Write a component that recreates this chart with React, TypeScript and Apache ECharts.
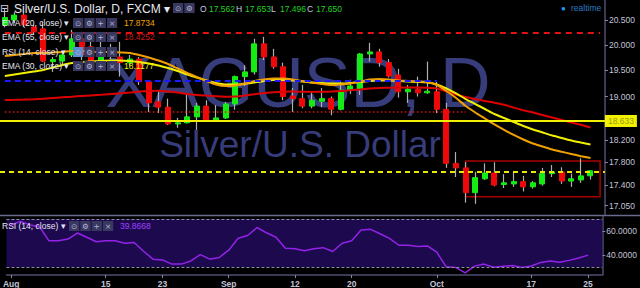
import React, { useEffect, useRef } from 'react';
import * as echarts from 'echarts';

const FONT = '"Liberation Sans", Arial, sans-serif';

// ---- categories: FXCM daily bars (weekdays) from 1 Aug 2016 to 25 Oct 2016
function tradingDays(start: string, end: string): string[] {
  const out: string[] = [];
  const d = new Date(start + 'T00:00:00Z');
  const e = new Date(end + 'T00:00:00Z');
  while (d <= e) {
    const wd = d.getUTCDay();
    if (wd !== 0 && wd !== 6) out.push(d.toISOString().slice(0, 10));
    d.setUTCDate(d.getUTCDate() + 1);
  }
  return out;
}
const dates = tradingDays('2016-08-01', '2016-10-25');

// ---- x tick labels
const tickDates = ['2016-08-01', '2016-08-15', '2016-08-23', '2016-09-01', '2016-09-12', '2016-09-20', '2016-10-03', '2016-10-17', '2016-10-25'];
const tickLabels = ['Aug', '15', '23', 'Sep', '12', '20', 'Oct', '17', '25'];

// ---- OHLC
const open = [20.40, 20.50, 20.60, 20.36, 20.32, 19.67, 19.68, 19.80, 20.12, 19.96, 19.68, 19.78, 19.76, 19.65, 19.72, 19.28, 18.90, 18.80, 18.49, 18.51, 18.62, 18.82, 18.56, 18.60, 18.86, 19.38, 19.47, 20.02, 19.76, 19.57, 19.01, 18.96, 18.82, 18.91, 18.96, 18.76, 19.12, 19.14, 19.82, 19.86, 19.65, 19.41, 19.09, 19.14, 19.07, 19.09, 18.76, 17.78, 17.70, 17.27, 17.51, 17.61, 17.41, 17.42, 17.46, 17.37, 17.42, 17.60, 17.63, 17.47, 17.49, 17.562];
const high = [20.72, 20.66, 20.64, 20.40, 20.46, 19.76, 19.85, 20.30, 20.26, 20.06, 20.06, 20.02, 20.06, 19.80, 19.76, 19.30, 19.09, 18.96, 18.60, 19.05, 18.88, 18.93, 18.84, 18.90, 19.40, 19.60, 20.12, 20.16, 19.92, 19.65, 19.16, 19.22, 19.09, 19.16, 19.00, 19.28, 19.32, 19.84, 20.04, 19.92, 19.72, 19.53, 19.22, 19.38, 19.67, 19.28, 18.88, 17.98, 17.80, 17.63, 17.78, 17.80, 17.59, 17.63, 17.56, 17.47, 17.70, 17.75, 17.71, 17.60, 17.87, 17.653];
const low = [20.35, 20.44, 20.36, 20.20, 19.66, 19.47, 19.62, 19.76, 19.70, 19.60, 19.66, 19.72, 19.38, 19.58, 19.22, 18.71, 18.69, 18.47, 18.42, 18.50, 18.38, 18.54, 18.53, 18.58, 18.75, 19.20, 19.42, 19.70, 19.53, 18.93, 18.71, 18.78, 18.78, 18.80, 18.65, 18.74, 19.05, 19.03, 19.67, 19.57, 19.36, 18.98, 18.88, 19.00, 19.05, 18.69, 17.70, 17.54, 17.10, 17.08, 17.49, 17.38, 17.35, 17.37, 17.29, 17.34, 17.39, 17.54, 17.42, 17.37, 17.44, 17.496];
const close = [20.55, 20.60, 20.40, 20.26, 19.68, 19.71, 19.80, 20.12, 19.80, 19.65, 19.76, 19.86, 19.65, 19.72, 19.28, 18.88, 18.80, 18.49, 18.51, 18.62, 18.82, 18.56, 18.60, 18.86, 19.38, 19.47, 20.02, 19.76, 19.57, 19.00, 18.96, 18.82, 18.93, 18.96, 18.76, 19.12, 19.20, 19.82, 19.86, 19.65, 19.39, 19.09, 19.14, 19.07, 19.10, 18.76, 17.78, 17.70, 17.27, 17.53, 17.61, 17.40, 17.44, 17.46, 17.37, 17.44, 17.60, 17.63, 17.47, 17.51, 17.56, 17.650];

// ---- moving averages
const ema20 = [19.780, 19.800, 19.819, 19.839, 19.839, 19.849, 19.859, 19.878, 19.878, 19.869, 19.859, 19.859, 19.849, 19.839, 19.800, 19.751, 19.692, 19.624, 19.536, 19.449, 19.372, 19.295, 19.228, 19.199, 19.209, 19.247, 19.295, 19.324, 19.343, 19.343, 19.324, 19.295, 19.266, 19.238, 19.218, 19.228, 19.247, 19.285, 19.324, 19.333, 19.324, 19.304, 19.295, 19.285, 19.276, 19.218, 19.104, 18.972, 18.822, 18.701, 18.590, 18.480, 18.379, 18.288, 18.206, 18.134, 18.080, 18.026, 17.985, 17.946, 17.907, 17.8734];
const ema30 = [19.391, 19.420, 19.449, 19.478, 19.507, 19.556, 19.605, 19.643, 19.663, 19.673, 19.682, 19.692, 19.692, 19.682, 19.663, 19.634, 19.595, 19.546, 19.488, 19.420, 19.362, 19.304, 19.257, 19.228, 19.228, 19.238, 19.266, 19.295, 19.314, 19.314, 19.304, 19.285, 19.266, 19.257, 19.247, 19.247, 19.257, 19.276, 19.295, 19.304, 19.304, 19.295, 19.285, 19.276, 19.266, 19.228, 19.152, 19.057, 18.953, 18.859, 18.766, 18.673, 18.599, 18.525, 18.452, 18.388, 18.334, 18.279, 18.234, 18.188, 18.152, 18.1177];
const ema55 = [18.934, 18.938, 18.943, 18.949, 18.957, 18.972, 18.985, 18.997, 19.010, 19.021, 19.032, 19.046, 19.061, 19.076, 19.093, 19.104, 19.108, 19.093, 19.074, 19.048, 19.029, 19.017, 19.006, 18.997, 19.000, 19.019, 19.044, 19.066, 19.079, 19.089, 19.093, 19.089, 19.087, 19.089, 19.095, 19.104, 19.119, 19.134, 19.150, 19.161, 19.167, 19.169, 19.169, 19.169, 19.167, 19.152, 19.095, 19.038, 18.991, 18.953, 18.915, 18.884, 18.844, 18.792, 18.741, 18.701, 18.655, 18.608, 18.562, 18.516, 18.474, 18.4252];

// ---- RSI (14)
const rsi = [65, 68, 65, 63.5, 51.8, 51.8, 53.3, 58.3, 54.8, 51.0, 51.8, 51.8, 49.8, 50.4, 43.1, 36.5, 35.9, 32.4, 32.4, 35.0, 40.3, 36.5, 37.9, 44.0, 53.9, 56.2, 62.9, 58.5, 54.8, 45.7, 45.2, 43.5, 45.2, 46.1, 42.9, 49.8, 51.8, 60.9, 61.4, 57.7, 53.9, 48.1, 48.1, 47.0, 47.5, 42.3, 30.1, 29.6, 25.1, 30.7, 32.4, 29.8, 30.5, 31.2, 29.6, 30.8, 33.8, 35.0, 34.0, 35.5, 37.5, 39.8668];

// ---- drawn levels
const redDashLevel = 20.251;
const blueDashLevel = 19.295;
const redDotLevel = 18.715;
const yellowLevel = 18.633;
const yellowDashLevel = 17.672;
const boxTop = 17.821;
const boxBottom = 17.2;
const boxStartDate = '2016-10-06';
const blueEndDate = '2016-10-03';
const dotEndDate = '2016-10-06';

// ---- axis ticks
const priceTicks = [20.5, 20.0, 19.5, 19.0, 18.2, 17.8, 17.4, 17.05];
const priceMin = 16.891;
const priceMax = 20.911;
const rsiTicks = [60, 40];

const L = Math.log;

function buildOption() {
  const axisCats = [...dates, ''];
  const lastIdx = axisCats.length - 1;
  const idx = (d: string) => dates.indexOf(d);
  const labelOf: Record<string, string> = {};
  tickDates.forEach((d, i) => (labelOf[d] = tickLabels[i]));
  const showTick = (_i: number, v: string) => labelOf[v] !== undefined;

  const wickData = dates.map((_, i) => [L(open[i]), L(close[i]), L(low[i]), L(high[i])]);
  const bodyData = dates.map((_, i) => [L(open[i]), L(close[i]), L(Math.min(open[i], close[i])), L(Math.max(open[i], close[i]))]);

  const axisColor = '#4e4e70';
  const labelColor = '#c4c4d8';

  const gfx: any[] = [];
  // watermark
  gfx.push({ type: 'text', z: 0, silent: true, style: { x: 298, y: 83, text: 'XAGUSD, D', fill: '#373c7a', fontSize: 70, fontFamily: FONT, textAlign: 'center', textVerticalAlign: 'middle' } });
  gfx.push({ type: 'text', z: 0, silent: true, style: { x: 300, y: 144, text: 'Silver/U.S. Dollar', fill: '#373c7a', fontSize: 37, fontFamily: FONT, textAlign: 'center', textVerticalAlign: 'middle' } });
  // separator
  gfx.push({ type: 'line', z: 50, silent: true, shape: { x1: 0, y1: 215.5, x2: 640, y2: 215.5 }, style: { stroke: '#6a6a8c', lineWidth: 1.5 } });

  const txt = (x: number, y: number, text: string, fill: string, fontSize = 8.5, extra: any = {}) =>
    gfx.push({ type: 'text', z: 101, silent: true, style: { x, y, text, fill, fontSize, fontFamily: FONT, textVerticalAlign: 'middle', ...extra } });
  const glyphs = ['⊙', '⚙', '+', '×'];
  const icons = (x0: number, yc: number, n: number, hl = false) => {
    for (let k = 0; k < n; k++) {
      const x = x0 + k * 11.3;
      gfx.push({ type: 'rect', z: 100, silent: true, shape: { x, y: yc - 5, width: 10.3, height: 10 }, style: { fill: hl && k === 0 ? '#5a8cd0' : '#393960' } });
      gfx.push({ type: 'text', z: 101, silent: true, style: { x: x + 5.15, y: yc, text: glyphs[k], fill: '#b4b4d6', fontSize: 7.5, fontFamily: '"DejaVu Sans", sans-serif', textAlign: 'center', textVerticalAlign: 'middle' } });
    }
  };

  // header row
  txt(0, 8.5, '⊟', '#d0d0e0', 11, { fontFamily: '"DejaVu Sans", sans-serif' });
  txt(14, 8.5, 'Silver/U.S. Dollar, D, FXCM ▾', '#e8e8f2', 12);
  icons(173, 8, 2);
  const ohlcLabels = ['O', 'H', 'L', 'C'];
  const ohlcValues = [open[61], high[61], low[61], close[61]];
  const ohlcX = [200, 236, 271, 307];
  ohlcLabels.forEach((l, k) => {
    txt(ohlcX[k], 8.5, l, '#c8c8ea');
    txt(ohlcX[k] + 9, 8.5, ohlcValues[k].toFixed(3), '#22d022');
  });
  txt(561, 8, '●', '#2196f3', 8);
  txt(571, 8, 'realtime', '#2f7cc2');

  const rows = [
    { name: 'EMA (20, close) ▾', value: ema20[61].toFixed(4), color: '#f5a000', y: 23, hl: false },
    { name: 'EMA (55, close) ▾', value: ema55[61].toFixed(4), color: '#cc1515', y: 37, hl: false },
    { name: 'RSI (14, close) ▾', value: '', color: '#fff', y: 52, hl: true },
    { name: 'EMA (30, close) ▾', value: ema30[61].toFixed(4), color: '#f0f000', y: 66, hl: false },
  ];
  rows.forEach((r) => {
    txt(2, r.y, r.name, '#e4e4f0');
    icons(73, r.y, 4, r.hl);
    if (r.value) txt(124, r.y, r.value, r.color);
  });
  txt(2, 226, 'RSI (14, close) ▾', '#e4e4f0');
  icons(69, 226, 4);
  txt(120, 226, rsi[61].toFixed(4), '#a040ff');

  const markLbl = (text: string, bg: string, fg: string) => ({
    show: true, position: 'end', distance: 0, formatter: text, color: fg, backgroundColor: bg,
    padding: [2, 3, 1, 3], fontSize: 8.5, fontFamily: FONT,
  });

  return {
    animation: false,
    backgroundColor: '#000000',
    textStyle: { fontFamily: FONT },
    grid: [
      { left: -4.3, top: 0, width: 609.2, height: 215 },
      { left: -4.3, top: 216, width: 609.2, height: 59 },
    ],
    xAxis: [
      { type: 'category', gridIndex: 0, data: axisCats, boundaryGap: true, axisLine: { show: false }, axisTick: { show: false }, axisLabel: { show: false }, splitLine: { show: false } },
      {
        type: 'category', gridIndex: 1, data: axisCats, boundaryGap: true,
        axisLine: { show: true, lineStyle: { color: axisColor, width: 1.5 } },
        axisTick: { show: true, interval: showTick, alignWithLabel: true, length: 3, lineStyle: { color: '#8888a8' } },
        axisLabel: { show: true, interval: showTick, alignMinLabel: 'center', alignMaxLabel: 'center', formatter: (v: string) => labelOf[v] ?? '', color: labelColor, fontSize: 8.5, margin: 4, fontWeight: 'bold' },
        splitLine: { show: false },
      },
    ],
    yAxis: [
      {
        type: 'value', gridIndex: 0, position: 'right', min: L(priceMin), max: L(priceMax), scale: true,
        splitLine: { show: false },
        axisLine: { show: true, lineStyle: { color: axisColor, width: 1.5 } },
        axisTick: { show: true, customValues: priceTicks.map(L), length: 3, lineStyle: { color: '#8888a8' } },
        axisLabel: { show: true, customValues: priceTicks.map(L), formatter: (v: number) => Math.exp(v).toFixed(3), color: labelColor, fontSize: 8.5, margin: 4 },
      },
      {
        type: 'value', gridIndex: 1, position: 'right', min: 23.3, max: 72.5,
        splitLine: { show: false },
        axisLine: { show: true, lineStyle: { color: axisColor, width: 1.5 } },
        axisTick: { show: true, customValues: rsiTicks, length: 3, lineStyle: { color: '#8888a8' } },
        axisLabel: { show: true, customValues: rsiTicks, formatter: (v: number) => v.toFixed(4), color: labelColor, fontSize: 8.5, margin: 4 },
      },
    ],
    series: [
      {
        name: 'wicks', type: 'candlestick', xAxisIndex: 0, yAxisIndex: 0, data: wickData, barWidth: 0.01,
        itemStyle: { color: '#b0b0b0', color0: '#b0b0b0', borderColor: '#b0b0b0', borderColor0: '#b0b0b0', borderWidth: 1.2 },
        silent: true,
      },
      {
        name: 'XAGUSD', type: 'candlestick', xAxisIndex: 0, yAxisIndex: 0, data: bodyData, barWidth: 5.5,
        itemStyle: { color: '#14ec14', color0: '#f00808', borderColor: '#14ec14', borderColor0: '#f00808', borderWidth: 1 },
        silent: true,
        markArea: {
          silent: true,
          data: [[
            { coord: [idx(boxStartDate), L(boxTop)], itemStyle: { color: 'rgba(0,0,0,0)', borderColor: '#a80000', borderWidth: 1.5 } },
            { coord: [lastIdx, L(boxBottom)] },
          ]],
        },
        markLine: {
          silent: true, symbol: ['none', 'none'], animation: false,
          label: { show: false },
          data: [
            [{ coord: [0, L(redDashLevel)], lineStyle: { color: '#e01414', width: 2, type: [6, 5] } }, { coord: [lastIdx, L(redDashLevel)] }],
            [{ coord: [0, L(blueDashLevel)], lineStyle: { color: '#1a1aff', width: 2, type: [6, 4] } }, { coord: [idx(blueEndDate), L(blueDashLevel)] }],
            [{ coord: [0, L(redDotLevel)], lineStyle: { color: '#e01414', width: 1.5, type: [1.5, 2.5] } }, { coord: [idx(dotEndDate), L(redDotLevel)] }],
            { yAxis: L(yellowLevel), lineStyle: { color: '#f0f000', width: 2, type: 'solid' }, label: markLbl(yellowLevel.toFixed(3), '#f2f200', '#9a9a18') },
            { yAxis: L(yellowDashLevel), lineStyle: { color: '#e8e800', width: 2, type: [5, 4] } },
            { yAxis: L(close[61]), lineStyle: { opacity: 0 }, label: markLbl(close[61].toFixed(3), '#00dc00', '#a8eea8') },
          ],
        },
      },
      { name: 'EMA 55', type: 'line', xAxisIndex: 0, yAxisIndex: 0, data: ema55.map(L), showSymbol: false, symbol: 'none', smooth: 0.2, lineStyle: { color: '#dd0000', width: 2 }, silent: true },
      { name: 'EMA 30', type: 'line', xAxisIndex: 0, yAxisIndex: 0, data: ema30.map(L), showSymbol: false, symbol: 'none', smooth: 0.2, lineStyle: { color: '#f0f000', width: 2 }, silent: true },
      { name: 'EMA 20', type: 'line', xAxisIndex: 0, yAxisIndex: 0, data: ema20.map(L), showSymbol: false, symbol: 'none', smooth: 0.2, lineStyle: { color: '#f0a000', width: 2 }, silent: true },
      {
        name: 'RSI', type: 'line', xAxisIndex: 1, yAxisIndex: 1, data: rsi, showSymbol: false, symbol: 'none',
        lineStyle: { color: '#9322e8', width: 1.5 }, silent: true,
        markArea: { silent: true, data: [[{ yAxis: 30, itemStyle: { color: '#1d0a4e' } }, { yAxis: 70 }]] },
        markLine: {
          silent: true, symbol: ['none', 'none'], label: { show: false },
          lineStyle: { color: '#8c8ca4', width: 1, type: [3, 2] },
          data: [{ yAxis: 70 }, { yAxis: 30 }],
        },
      },
    ],
    graphic: gfx,
  };
}

export default function App() {
  const ref = useRef<HTMLDivElement>(null);
  useEffect(() => {
    if (!ref.current) return;
    const chart = echarts.init(ref.current, undefined, { renderer: 'svg' });
    chart.setOption(buildOption() as any);
    return () => chart.dispose();
  }, []);
  return <div ref={ref} style={{ position: 'fixed', left: 0, top: 0, width: 640, height: 288 }} />;
}
